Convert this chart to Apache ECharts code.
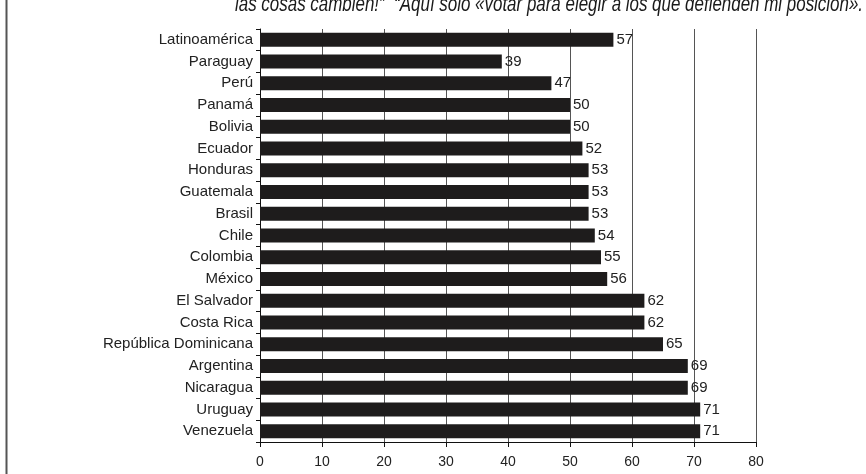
<!DOCTYPE html>
<html>
<head>
<meta charset="utf-8">
<script src="https://cdn.jsdelivr.net/npm/echarts@6/dist/echarts.min.js"></script>
<style>
  html, body { margin: 0; padding: 0; background: #fff; }
  #chart { width: 866px; height: 474px; }
</style>
</head>
<body>
<div id="chart"></div>
<script>
const countries = [
  'Latinoamérica', 'Paraguay', 'Perú', 'Panamá', 'Bolivia', 'Ecuador',
  'Honduras', 'Guatemala', 'Brasil', 'Chile', 'Colombia', 'México',
  'El Salvador', 'Costa Rica', 'República Dominicana', 'Argentina',
  'Nicaragua', 'Uruguay', 'Venezuela'
]
const percentages = [57, 39, 47, 50, 50, 52, 53, 53, 53, 54, 55, 56, 62, 62, 65, 69, 69, 71, 71]
const headline = 'las cosas cambien!”  “Aquí sólo «votar para elegir a los que defienden mi posición».'

const chart = echarts.init(document.getElementById('chart'))

chart.setOption({
  animation: false,
  backgroundColor: '#fff',
  textStyle: { fontFamily: 'Liberation Sans, Arial, sans-serif' },
  graphic: [
    {
      type: 'text',
      x: 235,
      y: -6,
      scaleX: 0.77,
      style: {
        text: headline,
        font: 'italic 22px "Liberation Sans", sans-serif',
        fill: '#1a1a1a'
      }
    },
    {
      type: 'line',
      shape: { x1: 6.5, y1: 0, x2: 6.5, y2: 474 },
      style: { stroke: '#555', lineWidth: 2 }
    }
  ],
  grid: { left: 260, right: 110, top: 29, bottom: 32 },
  xAxis: {
    type: 'value',
    min: 0,
    max: 80,
    interval: 10,
    axisLine: { show: true, lineStyle: { color: '#111', width: 1 } },
    axisTick: { show: true, length: 5, lineStyle: { color: '#111' } },
    axisLabel: { color: '#222', fontSize: 14, margin: 13 },
    splitLine: { show: true, lineStyle: { color: '#555', width: 1 } }
  },
  yAxis: {
    type: 'category',
    inverse: true,
    data: countries,
    axisLine: { show: true, lineStyle: { color: '#111', width: 1 } },
    axisTick: { show: true, length: 4, lineStyle: { color: '#111' } },
    axisLabel: { color: '#222', fontSize: 15, margin: 7 }
  },
  series: [
    {
      type: 'bar',
      data: percentages,
      barWidth: 14,
      itemStyle: { color: '#1e1c1c' },
      label: {
        show: true,
        position: 'right',
        distance: 3,
        color: '#222',
        fontSize: 15
      }
    }
  ]
})
</script>
</body>
</html>
